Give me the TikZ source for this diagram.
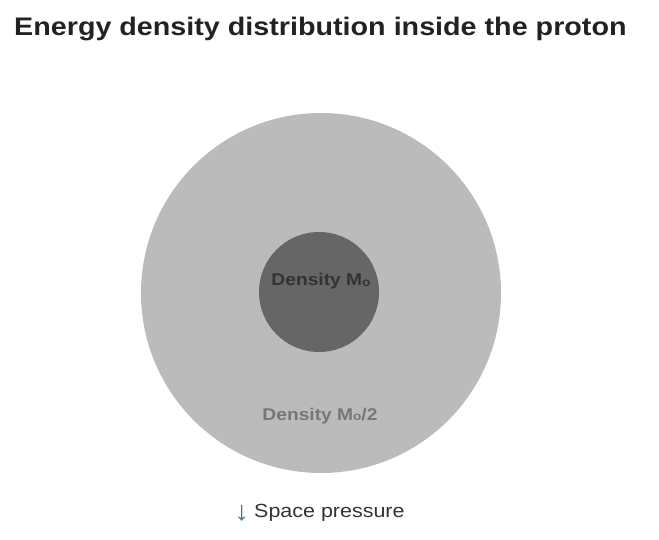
\documentclass[tikz,border=0pt]{standalone}
\usepackage{fontspec}
\setmainfont[FakeStretch=1.13]{Liberation Sans}
\definecolor{outerc}{HTML}{BBBBBB}
\definecolor{innerc}{HTML}{666666}
\definecolor{innertxt}{HTML}{333333}
\definecolor{outertxt}{HTML}{777777}
\definecolor{titlec}{HTML}{222222}
\definecolor{arrowc}{HTML}{4A6E96}
\definecolor{capc}{HTML}{333333}
\newcommand{\subo}{\raisebox{-0.05em}{\fontsize{12}{12}\selectfont o}}
\begin{document}
\begin{tikzpicture}[x=1pt,y=-1pt,
  lbl/.style={inner sep=0pt,anchor=base},
  disc/.style={circle,draw=none,inner sep=0pt}]
\useasboundingbox (0,0) rectangle (659,540);
\node[disc,fill=outerc,minimum size=360pt] (outer) at (321,293) {};
\node[disc,fill=innerc,minimum size=120pt] (inner) at (319,292) {};
\node[lbl,anchor=base west] (title) at (14,35.5) {\fontsize{25.4}{28}\selectfont\bfseries\color{titlec}Energy density distribution inside the proton};
\node[lbl,text=innertxt] (innerlbl) at (321,285.5) {\fontsize{17}{20}\selectfont\bfseries Density M\subo};
\node[lbl,text=outertxt] (outerlbl) at (320,420) {\fontsize{17}{20}\selectfont\bfseries Density M\subo/2};
\node[lbl,anchor=base west,text=arrowc] (arrow) at (234,520) {\fontsize{27}{30}\selectfont ↓};
\node[lbl,anchor=base west,text=capc] (caption) at (254,517.5) {\fontsize{19}{24}\selectfont Space pressure};
\end{tikzpicture}
\end{document}
